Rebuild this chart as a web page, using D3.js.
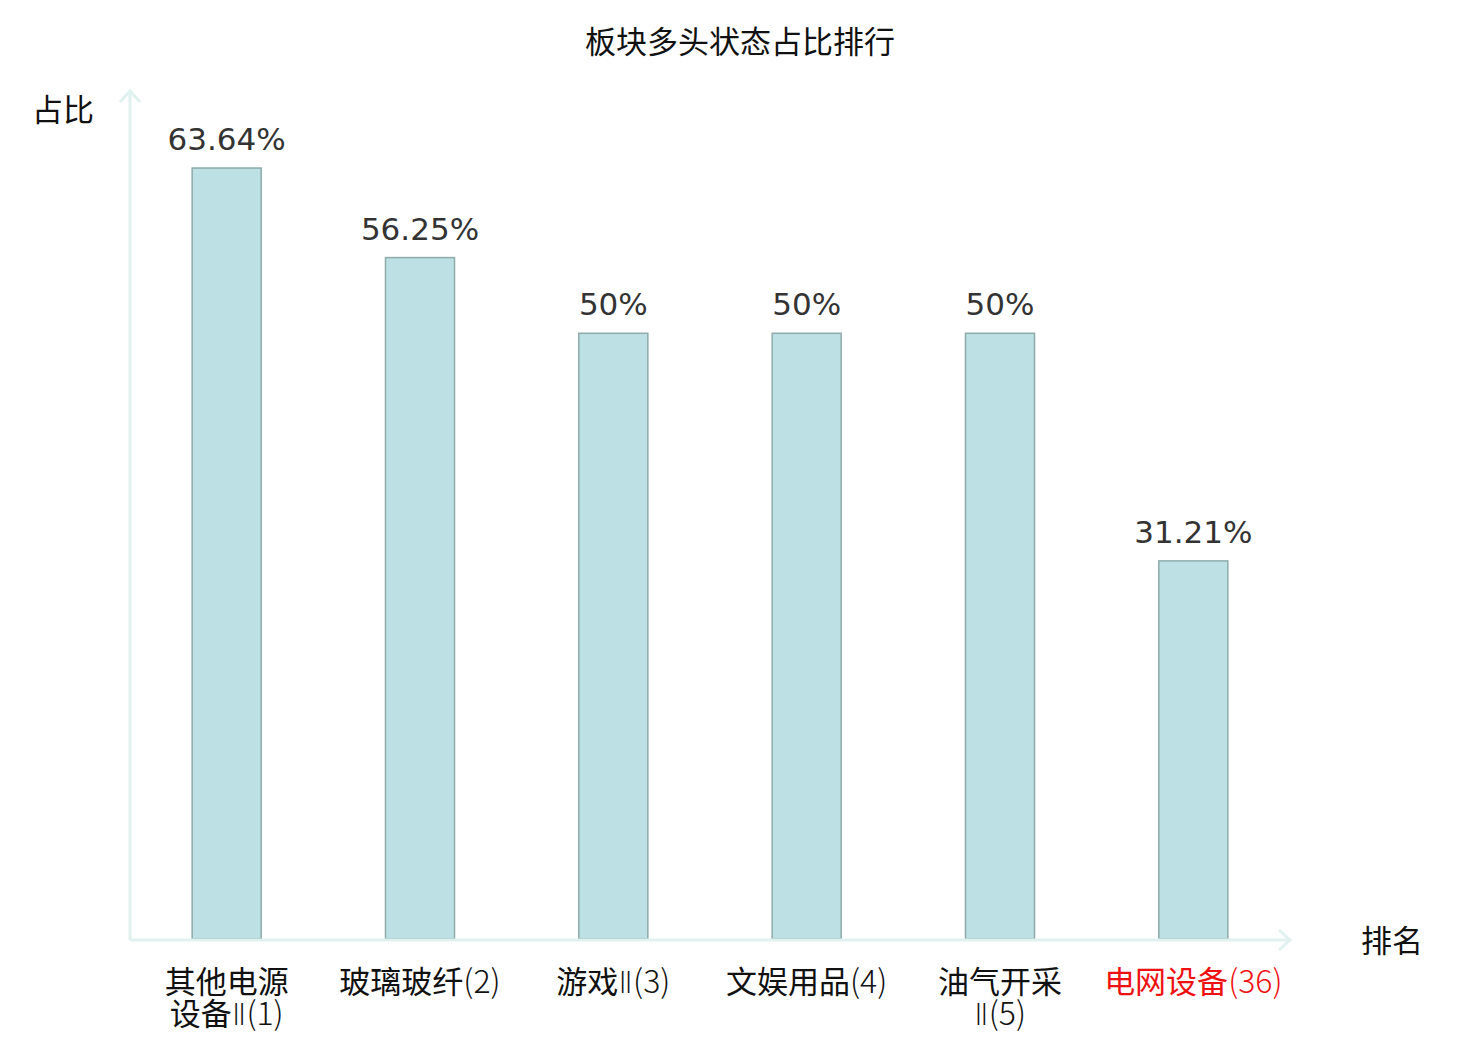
<!DOCTYPE html>
<html>
<head>
<meta charset="utf-8">
<script src="https://cdn.jsdelivr.net/npm/d3@7/dist/d3.min.js"></script>
<style>
  body { margin: 0; background: #fff; }
  svg { display: block; }
</style>
</head>
<body>
<script>
// 图表数据
var categories = ['其他电源\n设备Ⅱ(1)', '玻璃玻纤(2)', '游戏Ⅱ(3)', '文娱用品(4)', '油气开采\nⅡ(5)', '电网设备(36)'];
var values = [63.64, 56.25, 50, 50, 50, 31.21];
var valueLabels = ['63.64%', '56.25%', '50%', '50%', '50%', '31.21%'];
var highlight = [false, false, false, false, false, true];

var width = 1480;
var height = 1040;
var cjk = '"Noto Sans CJK SC", "Noto Sans", sans-serif';
var cjkLight = '"Noto Sans CJK SC Light", "Noto Sans CJK SC", sans-serif';
var latin = '"DejaVu Sans", sans-serif';
var axisColor = '#dff2ef';

var svg = d3.select('body')
  .append('svg')
  .attr('width', width)
  .attr('height', height);

// 绘图区
var x0 = 130, x1 = 1290, yTop = 91, yBottom = 939;

var xScale = d3.scaleBand()
  .domain(categories)
  .range([x0, x1])
  .paddingInner(0.643)
  .paddingOuter(0.3215);

var yScale = d3.scaleLinear()
  .domain([0, 70])
  .range([yBottom, yTop]);

// 标题
svg.append('text')
  .attr('x', 740)
  .attr('y', 53)
  .attr('text-anchor', 'middle')
  .attr('font-family', cjk)
  .attr('font-size', 31)
  .attr('fill', '#111')
  .text('板块多头状态占比排行');

// 柱子
svg.append('g')
  .selectAll('rect')
  .data(values)
  .enter()
  .append('rect')
  .attr('x', function (d, i) { return xScale(categories[i]); })
  .attr('y', function (d) { return yScale(d); })
  .attr('width', xScale.bandwidth())
  .attr('height', function (d) { return yScale(0) - yScale(d); })
  .attr('fill', '#bce0e3')
  .attr('stroke', '#8eaaaa')
  .attr('stroke-width', 1.5);

// 数值标签
svg.append('g')
  .selectAll('text')
  .data(values)
  .enter()
  .append('text')
  .attr('x', function (d, i) { return xScale(categories[i]) + xScale.bandwidth() / 2; })
  .attr('y', function (d) { return yScale(d) - 18; })
  .attr('text-anchor', 'middle')
  .attr('font-family', latin)
  .attr('font-size', 31)
  .attr('fill', '#333')
  .text(function (d, i) { return valueLabels[i]; });

// 坐标轴
var axis = svg.append('g')
  .attr('stroke', axisColor)
  .attr('stroke-width', 3)
  .attr('fill', 'none');

axis.append('line')
  .attr('x1', x0).attr('y1', yBottom + 1)
  .attr('x2', x0).attr('y2', yTop);
axis.append('path')
  .attr('d', 'M' + (x0 - 10) + ',' + (yTop + 11) + 'L' + x0 + ',' + yTop + 'L' + (x0 + 10) + ',' + (yTop + 11));

axis.append('line')
  .attr('x1', x0).attr('y1', yBottom + 1)
  .attr('x2', x1).attr('y2', yBottom + 1);
axis.append('path')
  .attr('d', 'M' + (x1 - 11) + ',' + (yBottom - 9) + 'L' + x1 + ',' + (yBottom + 1) + 'L' + (x1 - 11) + ',' + (yBottom + 11));

// 坐标轴名称
svg.append('text')
  .attr('x', 63)
  .attr('y', 121)
  .attr('text-anchor', 'middle')
  .attr('font-family', cjk)
  .attr('font-size', 31)
  .attr('fill', '#111')
  .text('占比');

svg.append('text')
  .attr('x', 1392)
  .attr('y', 952)
  .attr('text-anchor', 'middle')
  .attr('font-family', cjk)
  .attr('font-size', 31)
  .attr('fill', '#111')
  .text('排名');

// 类目标签：汉字与数字分开设置字体
var xLabels = svg.append('g')
  .selectAll('text')
  .data(categories)
  .enter()
  .append('text')
  .attr('text-anchor', 'middle')
  .attr('font-family', cjk)
  .attr('font-size', 31)
  .attr('fill', function (d, i) { return highlight[i] ? '#ee1111' : '#111'; });

xLabels.each(function (d) {
  var cx = xScale(d) + xScale.bandwidth() / 2;
  var text = d3.select(this);
  d.split('\n').forEach(function (line, li) {
    var row = text.append('tspan')
      .attr('x', cx)
      .attr('y', 993 + li * 32);
    line.match(/[\u4e00-\u9fff]+|Ⅱ|[^\u4e00-\u9fffⅡ]+/g).forEach(function (run) {
      var t = row.append('tspan').text(run);
      if (run === 'Ⅱ') {
        t.attr('font-family', latin).attr('font-weight', 200).attr('font-size', 30);
      } else if (!/[\u4e00-\u9fff]/.test(run)) {
        t.attr('font-family', cjkLight).attr('font-weight', 300).attr('font-size', 32);
      }
    });
  });
});
</script>
</body>
</html>
